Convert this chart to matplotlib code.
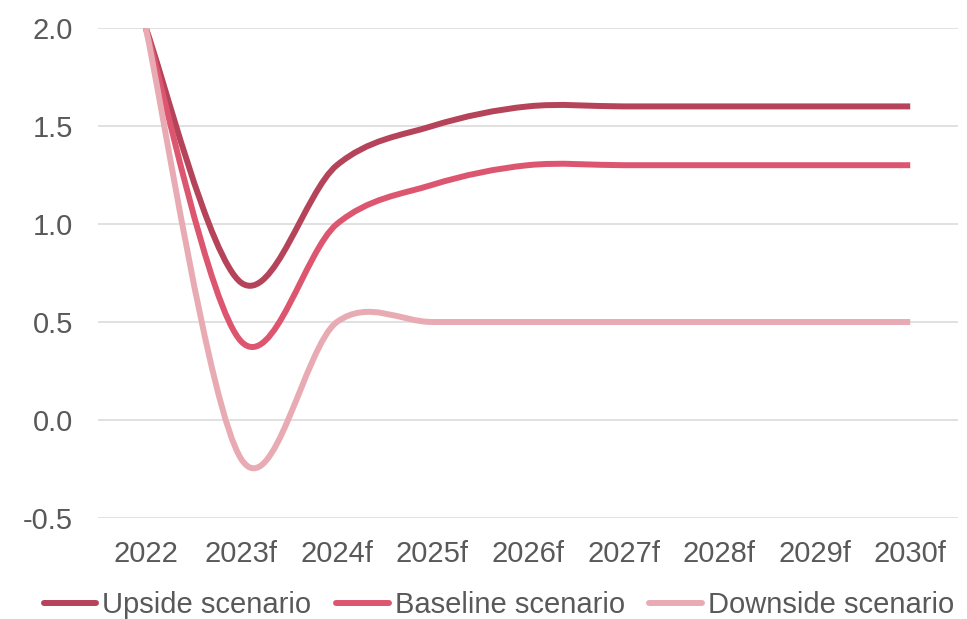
import matplotlib
matplotlib.use("Agg")
import matplotlib.pyplot as plt
from matplotlib.path import Path
from matplotlib.patches import PathPatch
from matplotlib.lines import Line2D

categories = ["2022", "2023f", "2024f", "2025f", "2026f", "2027f", "2028f", "2029f", "2030f"]
upside = [2.0, 0.7, 1.3, 1.5, 1.6, 1.6, 1.6, 1.6, 1.6]
baseline = [2.0, 0.4, 1.0, 1.2, 1.3, 1.3, 1.3, 1.3, 1.3]
downside = [2.0, -0.2, 0.5, 0.5, 0.5, 0.5, 0.5, 0.5, 0.5]
series_names = ["Upside scenario", "Baseline scenario", "Downside scenario"]
colors = ["#B5445A", "#DD5670", "#E9ABB3"]
yticks = [-0.5, 0.0, 0.5, 1.0, 1.5, 2.0]

plt.rcParams["font.family"] = ["Liberation Sans", "DejaVu Sans"]
TXT = "#595959"
FS = 21


def smooth_path(xs, ys):
    """Excel-like smoothed line: cubic Bezier segments through the data points."""
    n = len(xs)
    verts = [(xs[0], ys[0])]
    codes = [Path.MOVETO]
    for i in range(n - 1):
        i0 = max(i - 1, 0)
        i3 = min(i + 2, n - 1)
        c1 = (xs[i] + (xs[i + 1] - xs[i0]) / 6.0, ys[i] + (ys[i + 1] - ys[i0]) / 6.0)
        c2 = (xs[i + 1] - (xs[i3] - xs[i]) / 6.0, ys[i + 1] - (ys[i3] - ys[i]) / 6.0)
        verts += [c1, c2, (xs[i + 1], ys[i + 1])]
        codes += [Path.CURVE4] * 3
    return Path(verts, codes)


fig = plt.figure(figsize=(9.67, 6.19), dpi=100)
ax = fig.add_axes([98 / 967, 1 - 518 / 619, (958 - 98) / 967, (518 - 28) / 619])

xs = list(range(len(categories)))
LW = 4.3
handles = []
for name, vals, col in zip(series_names, [upside, baseline, downside], colors):
    p = PathPatch(smooth_path(xs, vals), fill=False, edgecolor=col, lw=LW,
                  capstyle="butt", joinstyle="round", zorder=3)
    ax.add_patch(p)
    handles.append(Line2D([], [], color=col, lw=LW, solid_capstyle="round"))

ax.set_xlim(-0.5, len(categories) - 0.5)
ax.set_ylim(-0.5, 2.0)
ax.set_xticks(xs)
ax.set_xticklabels(categories)
ax.set_yticks(yticks)
ax.set_yticklabels([f"{v:.1f}" for v in yticks])
ax.tick_params(axis="both", length=0, labelsize=FS, labelcolor=TXT)
ax.tick_params(axis="x", pad=16)
ax.tick_params(axis="y", pad=18)
ax.grid(axis="y", color="#D9D9D9", lw=1.1)
ax.set_axisbelow(True)
for s in ax.spines.values():
    s.set_visible(False)

leg = fig.legend(handles, series_names, loc="center", ncol=3,
                 bbox_to_anchor=(499 / 967, 1 - 605 / 619), frameon=False,
                 fontsize=FS, handlelength=1.8, handletextpad=0.2,
                 columnspacing=0.85, borderpad=0, borderaxespad=0)
for t in leg.get_texts():
    t.set_color(TXT)

fig.savefig("out.png", dpi=100)
